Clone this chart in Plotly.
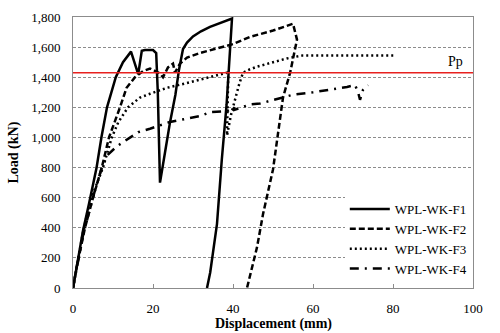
import plotly.graph_objects as go

# WPL-WK-F1 (solid)
f1_x = [0, 1, 2.5, 4, 5.9, 7.1, 8.5, 10.7, 12.5, 14.5, 16.3, 17.2, 18, 20, 20.8, 21.2, 21.75,
        23, 24.25, 25.6, 26.5, 27.5, 28.5, 30, 32, 34.25, 37.5, 39.75, 38.4, 37.2, 36, 34.3, 33.5]
f1_y = [0, 150, 380, 560, 800, 1000, 1200, 1400, 1500, 1570, 1420, 1575, 1580, 1580, 1560, 1300, 700,
        900, 1100, 1284, 1450, 1587, 1630, 1671, 1705, 1735, 1768, 1790, 1219, 852, 426, 103, 0]

# WPL-WK-F2 (dashed)
f2_x = [0, 1, 3, 5, 7.2, 9, 11.75, 13.4, 15.5, 17.5, 19.25, 21.75, 22.5, 23.75, 25, 25.5, 26.75,
        28.5, 31.75, 36, 40, 44.25, 50, 55, 55.6, 56, 54.3, 52.5, 50, 47.5, 46, 43.5]
f2_y = [0, 150, 400, 600, 800, 1000, 1200, 1330, 1400, 1440, 1458, 1425, 1400, 1465, 1490, 1432, 1490,
        1530, 1561, 1594, 1620, 1668, 1710, 1755, 1700, 1650, 1432, 1265, 787, 490, 270, 0]

# WPL-WK-F3 (dotted)
f3_x = [0, 1, 2.5, 4.25, 7.5, 9.7, 11.3, 13.75, 16.75, 19.25, 23.5, 27.5, 31.75, 36, 38.5, 38.8,
        38.5, 39.5, 40.5, 41.5, 42.5, 44, 46, 50, 53.5, 57.5, 65, 80.5]
f3_y = [0, 150, 370, 574, 800, 1000, 1100, 1200, 1265, 1290, 1330, 1355, 1385, 1413, 1430, 1400,
        1013, 1150, 1250, 1350, 1430, 1450, 1470, 1500, 1525, 1545, 1545, 1545]

# WPL-WK-F4 (dash-dot)
f4_x = [0, 1, 2.5, 4, 5.5, 7.2, 8.4, 10.9, 14.7, 16.3, 19.25, 24.25, 31.75, 34.25, 38.5, 40.3, 40,
        41.5, 44.25, 46.75, 52.5, 55, 60, 65, 68.5, 70.5, 71.25, 71.75, 72.5, 73.75]
f4_y = [0, 150, 350, 500, 650, 800, 877, 940, 1010, 1035, 1058, 1103, 1142, 1168, 1175, 1200, 1180,
        1195, 1219, 1225, 1265, 1284, 1300, 1318, 1335, 1348, 1303, 1250, 1316, 1348]

pp_value = 1430
x_ticks = [0, 20, 40, 60, 80, 100]
y_ticks = [0, 200, 400, 600, 800, 1000, 1200, 1400, 1600, 1800]

serif = "Liberation Serif, Times New Roman, serif"

fig = go.Figure()
fig.add_trace(go.Scatter(x=f1_x, y=f1_y, mode="lines", name="WPL-WK-F1",
                         line=dict(color="black", width=2.5)))
fig.add_trace(go.Scatter(x=f2_x, y=f2_y, mode="lines", name="WPL-WK-F2",
                         line=dict(color="black", width=2.5, dash="6px,3px")))
fig.add_trace(go.Scatter(x=f3_x, y=f3_y, mode="lines", name="WPL-WK-F3",
                         line=dict(color="black", width=2.5, dash="2px,3px")))
fig.add_trace(go.Scatter(x=f4_x, y=f4_y, mode="lines", name="WPL-WK-F4",
                         line=dict(color="black", width=2.5, dash="9px,6px,2px,6px")))

fig.add_shape(type="line", xref="x", yref="y", x0=0, x1=100, y0=pp_value, y1=pp_value,
              line=dict(color="#e8211f", width=1.5))
fig.add_annotation(x=95.5, y=pp_value, xref="x", yref="y", text="Pp", showarrow=False,
                   yanchor="bottom", yshift=2, font=dict(family=serif, size=14, color="black"))

fig.add_annotation(x=0.5, y=-0.095, xref="paper", yref="paper", text="<b>Displacement (mm)</b>",
                   showarrow=False, yanchor="top", font=dict(family=serif, size=14, color="black"))
fig.add_annotation(x=-0.15, y=0.5, xref="paper", yref="paper", text="<b>Load (kN)</b>",
                   showarrow=False, textangle=-90, xanchor="center",
                   font=dict(family=serif, size=14, color="black"))

fig.update_layout(
    width=500, height=333,
    margin=dict(l=73, r=27, t=10, b=44.5),
    paper_bgcolor="white", plot_bgcolor="white",
    font=dict(family=serif, size=13, color="black"),
    showlegend=True,
    legend=dict(x=0.997, y=0.015, xanchor="right", yanchor="bottom", bgcolor="white",
                font=dict(family=serif, size=13, color="black"),
                tracegroupgap=0, itemwidth=40),
    xaxis=dict(range=[0, 100], tickvals=x_ticks, showgrid=False, zeroline=False,
               showline=True, mirror=True, linecolor="#8c8c8c", linewidth=1,
               ticks="inside", ticklen=4, tickcolor="#8c8c8c", ticklabelstandoff=8,
               tickfont=dict(family=serif, size=13)),
    yaxis=dict(range=[0, 1800], tickvals=y_ticks, tickformat=",d", showgrid=True,
               gridcolor="#8c8c8c", griddash="3px,2px", gridwidth=1, zeroline=False,
               showline=True, mirror=True, linecolor="#8c8c8c", linewidth=1,
               ticks="", ticklabelstandoff=9,
               tickfont=dict(family=serif, size=13)),
)

fig.write_html("out.html")
